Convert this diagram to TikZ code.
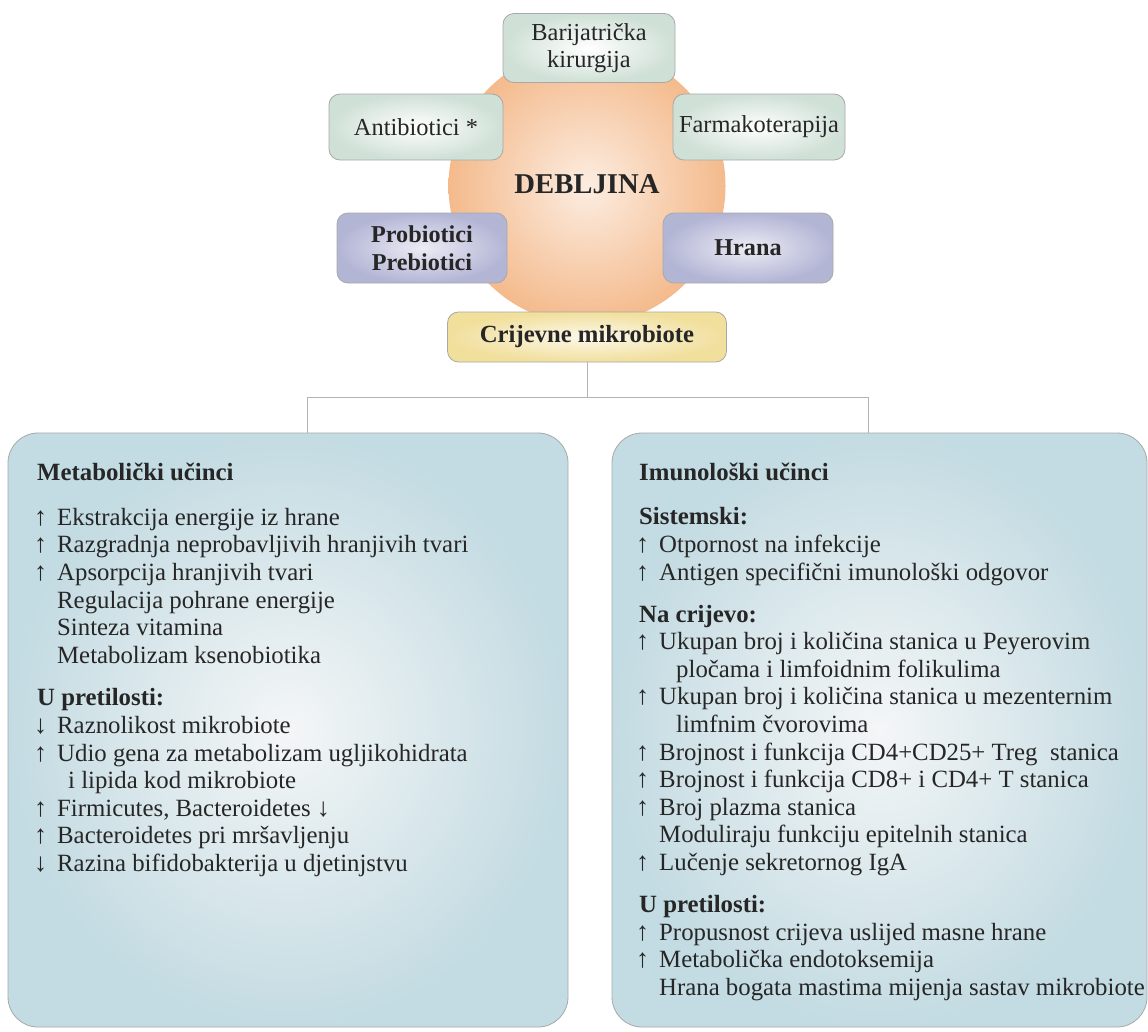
\documentclass[tikz,border=0pt]{standalone}
\usepackage{fontspec}
\setmainfont{Liberation Serif}
\usetikzlibrary{calc}
\definecolor{txt}{HTML}{262626}
\definecolor{bord}{HTML}{A8A8A8}
\definecolor{linec}{HTML}{B4B4B4}
\definecolor{orangeout}{HTML}{F4BA8C}
\definecolor{orangein}{HTML}{FCEDE1}
\definecolor{greenout}{HTML}{CFE0D6}
\definecolor{lavout}{HTML}{B3B5D5}
\definecolor{lavin}{HTML}{ECECF5}
\definecolor{yelout}{HTML}{F1DF9C}
\definecolor{yelin}{HTML}{FDF8EA}
\definecolor{blueout}{HTML}{C3DBE2}
\definecolor{bluein}{HTML}{F4F6F7}
\newcommand\arr[1]{{\fontsize{26}{26}\selectfont\bfseries #1}}
\newcommand\ua{\makebox[23pt][l]{\arr{↑}}}
\newcommand\da{\makebox[23pt][l]{\arr{↓}}}
\newcommand\na{\hspace*{23pt}}
\newcommand\hd[1]{\hspace*{3pt}\textbf{#1}}
\tikzset{
  topbox/.style={draw=bord, line width=0.8pt, rounded corners=11pt, align=center,
    inner sep=0pt, text=txt, font=\fontsize{24.4}{27.5}\selectfont},
  greenbox/.style={topbox, inner color=white, outer color=greenout},
  lavbox/.style={topbox, inner color=lavin, outer color=lavout, font=\fontsize{24.2}{27.5}\selectfont\bfseries},
  bigbox/.style={draw=bord, line width=0.8pt, rounded corners=30pt, inner color=bluein, outer color=blueout, inner sep=0pt},
  listtext/.style={align=left, inner sep=0pt, text=txt, anchor=north west, font=\fontsize{24.8}{27.6}\selectfont},
  conn/.style={draw=linec, line width=1pt}
}
\begin{document}
\begin{tikzpicture}[x=1pt,y=-1pt]
\useasboundingbox (0,0) rectangle (1148,1031);
% circle
\node[circle, minimum size=277pt, inner sep=0pt, inner color=orangein, outer color=orangeout] (deb) at (587,186) {};
\node[text=txt, font=\fontsize{28.7}{28.7}\selectfont\bfseries] (debt) at (587,184) {DEBLJINA};
% top boxes
\node[greenbox, minimum width=172pt, minimum height=69pt] (bari) at (589,48) {Barijatrička\\kirurgija};
\node[greenbox, minimum width=174pt, minimum height=66pt] (anti) at (416,127) {Antibiotici *};
\node[greenbox, minimum width=172pt, minimum height=66pt] (farm) at (759,127) {Farmakoterapija};
\node[lavbox, minimum width=170pt, minimum height=70pt] (prob) at (422,248) {Probiotici\\Prebiotici};
\node[lavbox, minimum width=170pt, minimum height=70pt] (hrana) at (748,248) {Hrana};
\node[topbox, inner color=yelin, outer color=yelout, minimum width=279pt, minimum height=50pt,
  font=\fontsize{24.7}{27.5}\selectfont\bfseries] (crij) at (587,337) {Crijevne mikrobiote};
% big boxes
\node[bigbox, minimum width=560pt, minimum height=594pt] (lbox) at (288,730) {};
\node[bigbox, minimum width=535pt, minimum height=594pt] (rbox) at (879.5,730) {};
% connectors
\coordinate (j) at (587,397);
\coordinate (lj) at (307,397);
\coordinate (rj) at (868,397);
\draw[conn] (crij.south) -- (j);
\draw[conn] (lj) -- (rj);
\draw[conn] (lj) -- (lj |- lbox.north);
\draw[conn] (rj) -- (rj |- rbox.north);
% left text
\node[listtext] (ltext) at (34,463) {%
\hd{Metabolički učinci}\\[17pt]
\ua Ekstrakcija energije iz hrane\\
\ua Razgradnja neprobavljivih hranjivih tvari\\
\ua Apsorpcija hranjivih tvari\\
\na Regulacija pohrane energije\\
\na Sinteza vitamina\\
\na Metabolizam ksenobiotika\\[15pt]
\hd{U pretilosti:}\\
\da Raznolikost mikrobiote\\
\ua Udio gena za metabolizam ugljikohidrata\\
\na\hspace*{11pt}i lipida kod mikrobiote\\
\ua Firmicutes, Bacteroidetes \arr{↓}\\
\ua Bacteroidetes pri mršavljenju\\
\da Razina bifidobakterija u djetinjstvu};
% right text
\node[listtext] (rtext) at (636,463) {%
\hd{Imunološki učinci}\\[16.5pt]
\hd{Sistemski:}\\
\ua Otpornost na infekcije\\
\ua Antigen specifični imunološki odgovor\\[14.5pt]
\hd{Na crijevo:}\\
\ua Ukupan broj i količina stanica u Peyerovim\\
\na\hspace*{17pt}pločama i limfoidnim folikulima\\
\ua Ukupan broj i količina stanica u mezenternim\\
\na\hspace*{17pt}limfnim čvorovima\\
\ua Brojnost i funkcija CD4+CD25+ Treg\ \ stanica\\
\ua Brojnost i funkcija CD8+ i CD4+ T stanica\\
\ua Broj plazma stanica\\
\na Moduliraju funkciju epitelnih stanica\\
\ua Lučenje sekretornog IgA\\[14.5pt]
\hd{U pretilosti:}\\
\ua Propusnost crijeva uslijed masne hrane\\
\ua Metabolička endotoksemija\\
\na Hrana bogata mastima mijenja sastav mikrobiote};
\end{tikzpicture}
\end{document}
